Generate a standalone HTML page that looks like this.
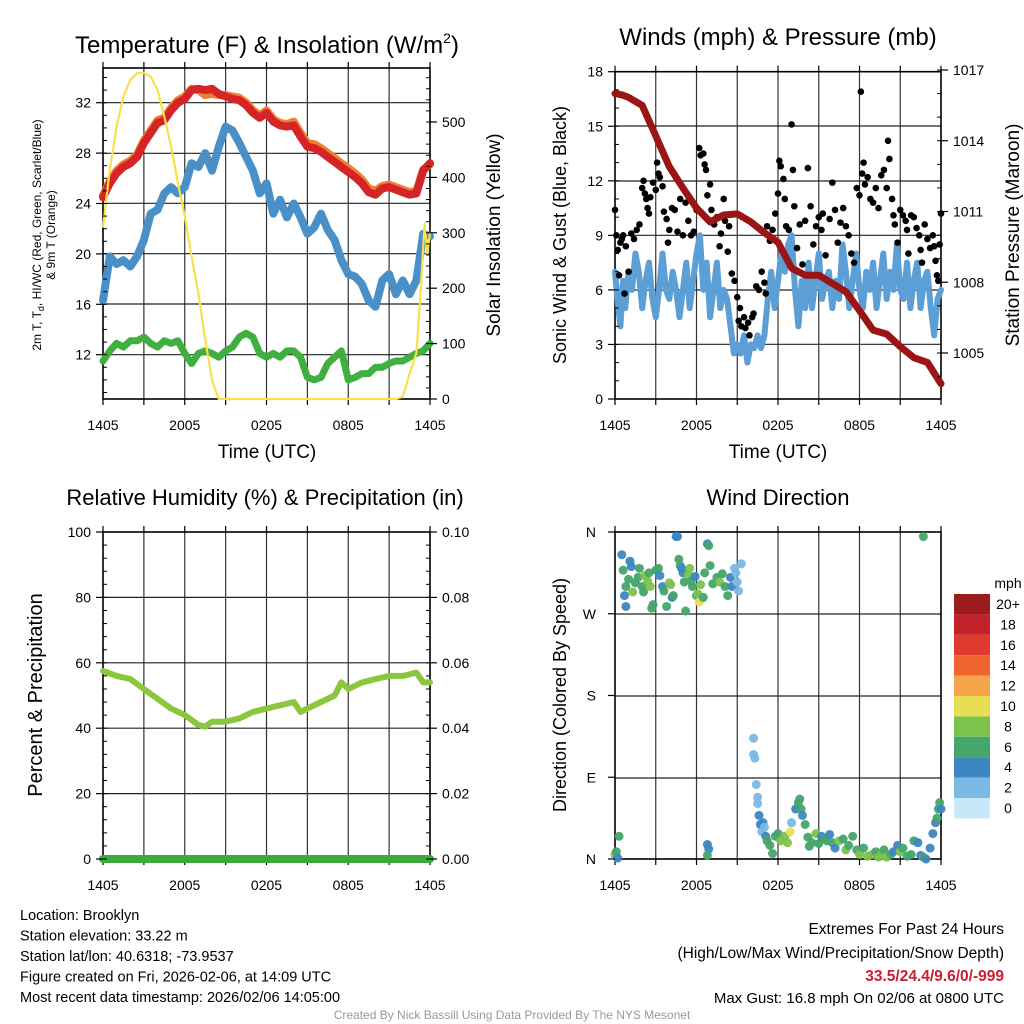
<!DOCTYPE html>
<html><head><meta charset="utf-8"><style>
body{margin:0;background:#fff;}
svg{display:block;font-family:"Liberation Sans",Arial,sans-serif;}
</style></head><body>
<svg id="c" width="1024" height="1024" viewBox="0 0 1024 1024"></svg>
<script>
// ---- data ----
const tempHours=[0,0.5,1,1.5,2,2.5,3,3.5,4,4.5,5,5.5,6,6.5,7,7.5,8,8.5,9,9.5,10,10.5,11,11.5,12,12.5,13,13.5,14,14.5,15,15.5,16,16.5,17,17.5,18,18.5,19,19.5,20,20.5,21,21.5,22,22.5,23,23.5,24];
const tempRed=[24.5,25.6,26.4,26.9,27.2,27.7,28.8,29.6,30.4,30.6,31.4,32,32.3,33,33.1,33,33.1,32.7,32.5,32.3,32.2,31.8,31.2,30.8,31.2,30.5,30.2,30.1,30.2,29.3,28.5,28.4,28.1,27.7,27.3,26.9,26.5,26.1,25.6,24.9,24.7,25.2,25.3,25.1,24.9,24.7,24.8,26.6,27.2];
const tempOrange=[24.6,25.8,26.6,27.1,27.4,27.9,29.0,29.8,30.6,30.8,31.6,32.2,32.5,33.1,33.0,32.6,32.7,32.6,32.6,32.5,32.4,32.0,31.4,31.0,31.4,30.7,30.4,30.3,30.5,29.6,28.8,28.7,28.4,28.0,27.6,27.2,26.8,26.4,25.9,25.2,25.0,25.4,25.5,25.3,25.1,24.9,25.0,26.7,27.1];
const dewBlue=[16.3,19.8,19.2,19.5,19,19.8,21.1,23.2,23.5,24.8,25.3,24.8,25.3,27.2,26.9,28,26.6,28.5,30.1,29.8,28.8,27.7,26.6,24.8,25.6,23.2,24.3,22.9,24,22.9,21.6,22.1,23.2,21.9,21.1,19.5,18.4,18.2,17.6,16.3,15.8,17.9,18.4,16.8,17.9,16.8,17.9,21.6,21.4];
const chillGreen=[11.5,12.3,12.9,12.6,13.1,13.1,13.4,12.9,12.6,13.1,12.9,13.1,12.1,11.3,12.1,12.3,12.1,11.8,12.3,12.6,13.4,13.7,13.4,12.1,11.8,12.1,11.8,12.3,12.3,11.8,10.2,10,10.2,11.3,11.8,12.3,10,10.2,10.5,10.5,11,11,11.3,11.5,11.5,11.8,12.1,12.3,12.9];
const solarHours=[0,0.5,1,1.5,2,2.5,3,3.5,4,4.5,5,5.5,6,6.5,7,7.5,8,8.5,12,16,20,21.5,22,22.5,23,23.3,23.6,23.8,24];
const solarVals=[311,414,492,546,576,588,588,582,558,510,456,390,330,257,191,107,34,0,0,0,0,0,4,46,83,191,317,263,300];
const presHours=[0,0.5,1,2,3,4,5,6,7,8,9,10,11,12,13,14,15,16,17,18,19,20,21,22,23,24];
const presVals=[1016,1015.95,1015.84,1015.5,1014.2,1012.9,1012.0,1011.15,1010.56,1010.85,1010.9,1010.56,1010.1,1009.7,1008.6,1008.3,1008.3,1007.95,1007.6,1006.8,1005.97,1005.8,1005.27,1004.8,1004.6,1003.7];
const windHours=[0,0.25,0.4,0.6,0.75,1,1.25,1.5,1.75,2,2.25,2.5,2.75,3,3.25,3.5,3.75,4,4.25,4.5,4.75,5,5.25,5.5,6,6.25,6.5,6.75,7,7.25,7.5,7.75,8,8.25,8.5,8.75,9,9.25,9.5,9.75,10,10.25,10.5,10.75,11,11.25,11.5,11.75,12,12.25,12.5,12.75,13,13.25,13.5,13.75,14,14.25,14.5,14.75,15,15.25,15.5,15.75,16,16.25,16.5,16.75,17,17.25,17.5,17.75,18,18.25,18.5,18.75,19,19.25,19.5,19.75,20,20.25,20.5,20.75,21,21.25,21.5,21.75,22,22.25,22.5,22.75,23,23.25,23.5,23.75,24];
const windVals=[7,5,4,6.5,5,7,6,8,7,5,6.5,7.5,5.5,4.5,6,8,6,5.5,7,6,4.5,6,7.5,5,8,9,6,7.5,4.5,6,7.5,5,6,5.5,4,2.5,3,2.5,3.5,2,3,2.8,3.5,2.8,3.5,5.5,7,5,6.5,8,7,8.5,9,6,4,6.5,5,7.5,5,6.5,8,5.5,6.5,7,5,6.5,5.5,8.5,7,5,6.5,8,6,5,7,6,7.5,5,6.5,8,5.5,7,6,8.5,6,5.5,7.5,5,6.5,7.5,5,6.5,7,5,3.5,5.5,6];
const gustHours=[0,0.1,0.2,0.3,0.4,0.5,0.6,0.7,0.8,1,1.2,1.4,1.6,1.8,2,2.1,2.2,2.3,2.4,2.5,2.6,2.8,3,3.1,3.2,3.3,3.5,3.6,3.8,3.9,4,4.2,4.4,4.6,4.8,5,5.2,5.4,5.6,5.8,6,6.2,6.3,6.5,6.6,6.7,6.8,7,7.1,7.3,7.5,7.7,7.8,8,8.1,8.3,8.4,8.6,8.8,9,9.1,9.2,9.3,9.5,9.6,9.8,9.9,10.1,10.2,10.4,10.6,10.8,11,11.1,11.2,11.4,11.6,11.8,12,12.1,12.2,12.4,12.5,12.6,12.8,13,13.1,13.2,13.4,13.6,13.8,14,14.2,14.4,14.6,14.8,15,15.2,15.3,15.5,15.8,16,16.2,16.4,16.6,16.8,17,17.2,17.4,17.6,17.8,18,18.1,18.2,18.3,18.4,18.6,18.8,19,19.2,19.4,19.6,19.8,20,20.1,20.2,20.4,20.5,20.6,20.8,21,21.2,21.4,21.5,21.6,21.8,22,22.2,22.4,22.5,22.6,22.8,23,23.2,23.4,23.5,23.6,23.7,23.8,23.9,24];
const gustVals=[10.4,9,8.2,6.8,8.6,8.8,9,5.8,8.4,7,9.1,8.8,9.3,9.6,11.6,12,11.3,11,10.5,10.2,11.1,11.9,11.5,13,12.4,12.2,11.7,10.3,9.9,8.6,9.3,10.5,10.4,9.2,11,9,10.8,9.8,9,9.2,10.4,13.8,13.4,13.5,12.9,12.6,11.2,11.8,10.4,9.6,10,8.4,9.1,11,9.8,8.1,9.5,6.9,6.5,5.6,4.3,5,4,4.5,3.9,4.2,3.5,4.5,4.7,6.2,6,7,6.4,5.8,9.5,8.7,9.3,10.2,11.3,13.1,12.8,12.1,11,9.5,9.3,15.1,12.6,10.6,8.3,9.6,7.4,9.8,12.7,10.6,8.5,9.5,10,9.3,10.2,7.9,9.9,11.9,10.4,8.6,9.7,10.5,9.5,9,8,7.5,11.6,11.2,16.9,12.4,13,11.8,12.2,11,10.8,11.6,10.5,12.3,12.6,11.6,14.2,13.2,11,10.1,9.6,8.6,10.4,10.1,9.8,9.3,8,10.1,10,9.4,9,8.2,7.5,9.6,8.8,8.3,9,8.4,7.6,6.8,6.5,8.5,10.2];
const rhHours=[0,1,2,3,4,5,6,7,7.5,8,9,10,11,12,13,14,14.5,15,16,17,17.5,18,19,20,21,22,23,23.5,24];
const rhVals=[57.5,56,55,52,49,46,44,41,40.5,42,42,43,45,46,47,48,45,46,48,50,54,52,54,55,56,56,57,54,54];
const precipVals=[0,0];
const dirHours=[0.5,0.6,0.8,0.7,0.8,1,1.1,1.2,1.3,1.5,1.7,1.8,2,2.1,2.2,2.4,2.5,2.6,2.7,2.8,3,3.2,3.3,3.5,3.6,3.8,4,4.1,4.2,4.3,4.5,4.6,4.7,4.8,4.9,5,5.1,5.2,5.4,5.5,5.6,5.7,5.9,6,6.1,6.2,6.3,6.5,6.6,6.8,6.9,7,7.2,7.5,7.7,7.9,8.1,8.3,8.5,8.6,8.8,8.9,9,9.1,9.3,0,0.1,0.2,0.3,6.8,6.9,6.8,10.2,10.2,10.3,10.4,10.5,10.5,10.6,10.7,10.8,10.9,11,11.1,11.2,11.4,11.6,11.8,12,12.2,12.5,12.7,12.9,13,13.3,13.5,13.6,13.7,13.8,14,14.2,14.3,14.5,14.8,15,15.2,15.4,15.6,15.8,16,16.2,16.5,16.8,17,17.2,17.5,17.8,18,18.3,18.6,18.9,19.2,19.4,19.6,19.8,20,20.3,20.5,20.8,21,21.2,21.5,21.8,22,22.3,22.5,22.7,22.9,23.2,23.4,23.6,23.7,23.8,23.9,24,22.7];
const dirDeg=[335,318,300,290,278,308,328,322,294,304,310,320,300,294,312,306,315,300,276,280,318,320,312,300,295,278,304,302,288,290,355,355,330,323,320,315,305,273,313,320,306,300,311,290,292,283,302,288,315,347,345,323,303,310,305,314,300,290,310,300,320,315,305,295,325,5,8,1,25,16,11,4,133,115,111,82,68,61,48,38,30,40,35,25,20,15,6,25,28,20,25,18,30,40,55,62,66,55,48,38,24,14,18,28,17,25,22,20,27,18,12,20,22,10,15,25,10,5,12,3,5,8,2,5,10,2,5,8,15,8,12,3,5,20,18,4,2,0,12,28,40,45,55,62,55,355];
const dirSpeed=[4,6,6,4,4,6,4,4,8,6,6,6,6,6,8,8,6,8,6,6,6,6,4,4,6,6,8,8,4,6,4,4,6,6,4,4,6,6,8,8,6,6,4,6,8,10,8,6,6,4,6,6,6,6,8,6,6,6,4,4,2,2,2,2,2,8,6,4,6,4,4,6,2,2,2,2,2,2,4,4,2,4,2,4,6,6,6,6,6,8,8,8,10,2,4,6,6,6,4,6,6,6,6,8,6,4,6,6,4,6,4,8,6,8,6,6,6,8,6,8,8,6,8,8,6,8,6,4,4,8,6,6,6,6,4,4,6,4,4,4,4,6,6,6,4,6];
const legendLabels=["20+","18","16","14","12","10","8","6","4","2","0"];
const legendColors=["#9b1b1f","#c3222a","#e03a2e","#f0652e","#f6a44a","#e7de55","#7dc24c","#45a56a","#3d86c2","#7cb8e4","#c6e9f9"];
const xTickLabels=["1405","2005","0205","0805","1405"];

// ---- helpers ----
const NS="http://www.w3.org/2000/svg";
const svg=document.getElementById('c');
function mk(tag,attrs,parent){const e=document.createElementNS(NS,tag);for(const k in attrs)e.setAttribute(k,attrs[k]);(parent||svg).appendChild(e);return e;}
function txt(s,x,y,size,anchor,extra,name){const t=mk('text',Object.assign({x:x,y:y,'font-size':size,'text-anchor':anchor||'middle',fill:'#000'},extra||{}));t.textContent=s;


return t;}
function linear(d0,d1,r0,r1){return v=>r0+(v-d0)*(r1-r0)/(d1-d0);}
function path(xs,ys,sx,sy,stroke,w,name){let d='';for(let i=0;i<xs.length;i++)d+=(i?'L':'M')+sx(xs[i]).toFixed(1)+' '+sy(ys[i]).toFixed(1);
const p=mk('path',{d:d,fill:'none',stroke:stroke,'stroke-width':w,'stroke-linejoin':'round','stroke-linecap':'round'});


return p;}
function frame(x0,x1,y0,y1,hgrid,name){
  const g=mk('g',{});
  
  
  for(let i=1;i<8;i++){const x=x0+(x1-x0)*i/8;mk('line',{x1:x,x2:x,y1:y0,y2:y1,stroke:'#333','stroke-width':1.2},g);}
  hgrid.forEach(y=>mk('line',{x1:x0,x2:x1,y1:y,y2:y,stroke:'#222','stroke-width':1.2},g));
  mk('rect',{x:x0,y:y0,width:x1-x0,height:y1-y0,fill:'none',stroke:'#000','stroke-width':1.6},g);
  for(let i=0;i<=8;i++){const x=x0+(x1-x0)*i/8;mk('line',{x1:x,x2:x,y1:y1,y2:y1+6,stroke:'#000','stroke-width':1.2},g);mk('line',{x1:x,x2:x,y1:y0,y2:y0-6,stroke:'#000','stroke-width':1.2},g);}
  for(let i=0;i<5;i++){txt(xTickLabels[i],x0+(x1-x0)*i/4,y1+31,14,'middle',{},'x-tick-label');}
  return g;
}
function yTicks(x,sy,vals,fmt,side,minorStep,lo,hi){
  vals.forEach(v=>{const y=sy(v);mk('line',{x1:x,x2:x+(side<0?-7:7),y1:y,y2:y,stroke:'#000','stroke-width':1.2});
    txt(fmt(v),x+(side<0?-12:12),y+5,14,side<0?'end':'start',{},'y-tick-label');});
  if(minorStep){for(let v=lo;v<=hi+1e-9;v+=minorStep){const y=sy(v);mk('line',{x1:x,x2:x+(side<0?4:-4),y1:y,y2:y,stroke:'#000','stroke-width':1});}}
}

// ---- Panel 1 ----
const hx1=linear(0,24,103,430), ty=linear(32,12,102.7,354.7), sy1=linear(0,500,399,122);
frame(103,430,68,399,[102.7,153.3,203.3,253.7,304,354.7],'temperature-plot-area');
path(tempHours,chillGreen,hx1,ty,'#3faf3f',7,'green-temperature-line');
path(tempHours,dewBlue,hx1,ty,'#4a90c8',8,'blue-dewpoint-line');
path(tempHours,tempOrange,hx1,ty,'#f08030',8,'orange-9m-temp-line');
path(tempHours,tempRed,hx1,ty,'#d42428',8,'red-2m-temp-line');
path(solarHours,solarVals,hx1,sy1,'#fbe04a',2.2,'yellow-insolation-line');
yTicks(103,ty,[32,28,24,20,16,12],v=>v,-1,1,9,34);
yTicks(430,sy1,[0,100,200,300,400,500],v=>v,1,20,0,580);
(function(){const t=txt('',267,53,24,'middle',{},'temperature-panel-title');
t.innerHTML='Temperature (F) &amp; Insolation (W/m<tspan font-size="14" dy="-10">2</tspan><tspan dy="10">)</tspan>';})();
txt('Time (UTC)',267,458,19,'middle',{},'x-axis-title');
(function(){const t=txt('',0,0,12,'middle',{transform:'translate(41,235) rotate(-90)'},'temperature-y-axis-title');
t.innerHTML='2m T, T<tspan font-size="9" dy="3">d</tspan><tspan dy="-3">, HI/WC (Red, Green, Scarlet/Blue)</tspan>';
txt('& 9m T (Orange)',0,0,12,'middle',{transform:'translate(55,235) rotate(-90)'},'temperature-y-axis-title-line2');})();
txt('Solar Insolation (Yellow)',0,0,19,'middle',{transform:'translate(500,235) rotate(-90)'},'solar-y-axis-title');

// ---- Panel 2 ----
const hx2=linear(0,24,615,941), wy=linear(0,18,399,71.7), py=linear(1005,1017,353,70);
frame(615,941,71.7,399,[126,181,235.3,290,344.3],'wind-plot-area');
path(windHours,windVals,hx2,wy,'#5b9fd6',6,'blue-sonic-wind-line');
gustHours.forEach((h,i)=>{const c=mk('circle',{cx:hx2(h),cy:wy(gustVals[i]),r:3.3,fill:'#000'});

});
path(presHours,presVals,hx2,py,'#9b1515',7,'maroon-pressure-line');
yTicks(615,wy,[0,3,6,9,12,15,18],v=>v,-1,1,0,18);
yTicks(941,py,[1005,1008,1011,1014,1017],v=>v,1,1,1004,1017);
txt('Winds (mph) & Pressure (mb)',778,45,24,'middle',{},'wind-panel-title');
txt('Time (UTC)',778,458,19,'middle',{},'x-axis-title-2');
txt('Sonic Wind & Gust (Blue, Black)',0,0,18,'middle',{transform:'translate(566,235) rotate(-90)'},'wind-y-axis-title');
txt('Station Pressure (Maroon)',0,0,19,'middle',{transform:'translate(1019,235) rotate(-90)'},'pressure-y-axis-title');

// ---- Panel 3 ----
const hx3=linear(0,24,103,430), ry=linear(0,100,859,532);
frame(103,430,532,859,[597.4,662.8,728.2,793.6],'humidity-plot-area');
path([0,24],precipVals,hx3,ry,'#3daa3d',8,'precipitation-line');
path(rhHours,rhVals,hx3,ry,'#8cc63f',6,'relative-humidity-line');
yTicks(103,ry,[0,20,40,60,80,100],v=>v,-1,4,0,100);
yTicks(430,ry,[0,20,40,60,80,100],v=>(v/1000).toFixed(2),1,4,0,100);
txt('Relative Humidity (%) & Precipitation (in)',265,505,22,'middle',{},'humidity-panel-title');
txt('Percent & Precipitation',0,0,20,'middle',{transform:'translate(42,695) rotate(-90)'},'humidity-y-axis-title');

// ---- Panel 4 ----
const hx4=linear(0,24,615,941), dy=linear(0,360,859,532);
frame(615,941,532,859,[614,696,778],'direction-plot-area');
function speedColor(s){const idx=Math.min(10,Math.max(0,10-Math.round(s/2)));return legendColors[idx];}
dirHours.forEach((h,i)=>{const c=mk('circle',{cx:hx4(h),cy:dy(dirDeg[i]),r:4.5,fill:speedColor(dirSpeed[i]),'fill-opacity':0.95});

});
["N","E","S","W","N"].forEach((l,i)=>{const y=dy(i*90);mk('line',{x1:615,x2:608,y1:y,y2:y,stroke:'#000','stroke-width':1.2});txt(l,596,y+5,14,'end',{},'direction-tick-label');});
txt('Wind Direction',778,505,22,'middle',{},'direction-panel-title');
txt('Direction (Colored By Speed)',0,0,18,'middle',{transform:'translate(566,695) rotate(-90)'},'direction-y-axis-title');
// legend
txt('mph',1008,588,14,'middle',{},'legend-title');
legendLabels.forEach((l,i)=>{const y=594+i*20.4;const r=mk('rect',{x:954,y:y,width:36,height:20.4,fill:legendColors[i]});


txt(l,1008,y+15,14,'middle',{},'legend-entry');});

// ---- footer text ----
["Location: Brooklyn","Station elevation: 33.22 m","Station lat/lon: 40.6318; -73.9537","Figure created on Fri, 2026-02-06, at 14:09 UTC","Most recent data timestamp: 2026/02/06 14:05:00"].forEach((s,i)=>txt(s,20,920+i*20.5,14.5,'start',{},'station-info-line'));
txt('Extremes For Past 24 Hours',1004,934,15.5,'end',{},'extremes-heading');
txt('(High/Low/Max Wind/Precipitation/Snow Depth)',1004,958,15.5,'end',{},'extremes-subheading');
txt('33.5/24.4/9.6/0/-999',1004,981,15.5,'end',{fill:'#c8202a','font-weight':'bold'},'extremes-values');
txt('Max Gust: 16.8 mph On 02/06 at 0800 UTC',1004,1003,15,'end',{},'max-gust-text');
txt('Created By Nick Bassill Using Data Provided By The NYS Mesonet',512,1019,12,'middle',{fill:'#999'},'credit-footer');
</script>
</body></html>
